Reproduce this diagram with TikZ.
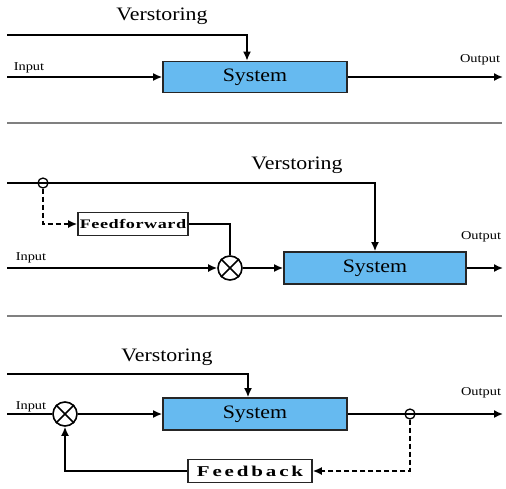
\documentclass[tikz,border=0pt]{standalone}
\usepackage{fontspec}
\setmainfont{Liberation Serif}
\newfontfamily\lblfont[FakeStretch=1.15]{Liberation Serif}
\newfontfamily\smlfont[FakeStretch=1.2]{Liberation Serif}
\newfontfamily\ffwfont[FakeStretch=1.4,LetterSpace=4]{Liberation Serif Bold}
\newfontfamily\fbkfont[FakeStretch=1.4,LetterSpace=19]{Liberation Serif Bold}
\usetikzlibrary{arrows.meta}
\definecolor{sysblue}{RGB}{102,186,240}
\begin{document}
\begin{tikzpicture}[x=1pt,y=-1pt,
  line/.style={line width=1.6pt},
  arr/.style={line width=1.6pt,-{Latex[length=9pt,width=8pt]}},
  dsh/.style={line width=1.6pt,dash pattern=on 5pt off 3pt,-{Latex[length=9pt,width=8pt]}},
  sysbox/.style={draw=black!85,fill=sysblue,line width=1.7pt,inner sep=0pt,minimum width=184pt,minimum height=31pt,font=\lblfont\fontsize{19}{19}\selectfont},
  ctrlbox/.style={draw=black!85,fill=white,line width=1.6pt,inner sep=0pt},
  mult/.style={draw,circle,line width=1.6pt,minimum size=24pt,inner sep=0pt},
  tap/.style={draw,circle,line width=1.3pt,minimum size=10pt,inner sep=0pt},
  biglbl/.style={font=\lblfont\fontsize{19}{19}\selectfont,inner sep=0pt},
  smllbl/.style={font=\smlfont\fontsize{12}{12}\selectfont,inner sep=0pt},
  sep/.style={draw=gray,line width=1.5pt}]
\useasboundingbox (0,0) rectangle (506,488);

% ---------- Panel 1 ----------
\node[biglbl] (v1) at (162,16) {Verstoring};
\node[sysbox] (sys1) at (255,77) {System};
\node[smllbl] (i1) at (29,68) {Input};
\node[smllbl] (o1) at (480,60) {Output};
\coordinate (d1s) at (7,35);
\coordinate (in1) at (7,77);
\coordinate (out1) at (503,77);
\draw[arr] (d1s) -| ([xshift=-8pt]sys1.north);
\draw[arr] (in1) -- (sys1);
\draw[arr] (sys1) -- (out1);
\coordinate (s1a) at (7,123);
\coordinate (s1b) at (502,123);
\draw[sep] (s1a) -- (s1b);

% ---------- Panel 2 ----------
\node[biglbl] (v2) at (297,165) {Verstoring};
\node[sysbox,minimum width=182pt,minimum height=32pt] (sys2) at (375,268) {System};
\node[smllbl] (i2) at (31,258) {Input};
\node[smllbl] (o2) at (481,237) {Output};
\node[ctrlbox,minimum width=110pt,minimum height=23pt,font=\ffwfont\fontsize{13}{13}\selectfont] (ff) at (133,224) {Feedforward};
\node[mult] (m2) at (230,268) {};
\draw[line] (m2.north west) -- (m2.south east);
\draw[line] (m2.north east) -- (m2.south west);
\node[tap] (t2) at (43,183) {};
\coordinate (d2s) at (7,183);
\coordinate (in2) at (7,268);
\coordinate (out2) at (503,268);
\draw[arr] (d2s) -| (sys2.north);
\draw[dsh] (t2.south) |- (ff.west);
\draw[line] (ff.east) -| (m2.north);
\draw[arr] (in2) -- (m2.west);
\draw[arr] (m2.east) -- (sys2.west);
\draw[arr] (sys2) -- (out2);
\coordinate (s2a) at (7,316);
\coordinate (s2b) at (502,316);
\draw[sep] (s2a) -- (s2b);

% ---------- Panel 3 ----------
\node[biglbl] (v3) at (167,357) {Verstoring};
\node[sysbox,minimum height=32pt] (sys3) at (255,414) {System};
\node[smllbl] (i3) at (31,407) {Input};
\node[smllbl] (o3) at (481,393) {Output};
\node[mult] (m3) at (65,414) {};
\draw[line] (m3.north west) -- (m3.south east);
\draw[line] (m3.north east) -- (m3.south west);
\node[tap] (t3) at (410,414) {};
\node[ctrlbox,minimum width=124pt,minimum height=23pt,font=\fbkfont\fontsize{15}{15}\selectfont] (fb) at (250,471) {Feedback};
\coordinate (d3s) at (7,374);
\coordinate (in3) at (7,414);
\coordinate (out3) at (503,414);
\draw[arr] (d3s) -| ([xshift=-7pt]sys3.north);
\draw[line] (in3) -- (m3.west);
\draw[arr] (m3.east) -- (sys3.west);
\draw[arr] (sys3) -- (out3);
\draw[dsh] (t3.south) |- (fb.east);
\draw[arr] (fb.west) -| (m3.south);
\end{tikzpicture}
\end{document}
